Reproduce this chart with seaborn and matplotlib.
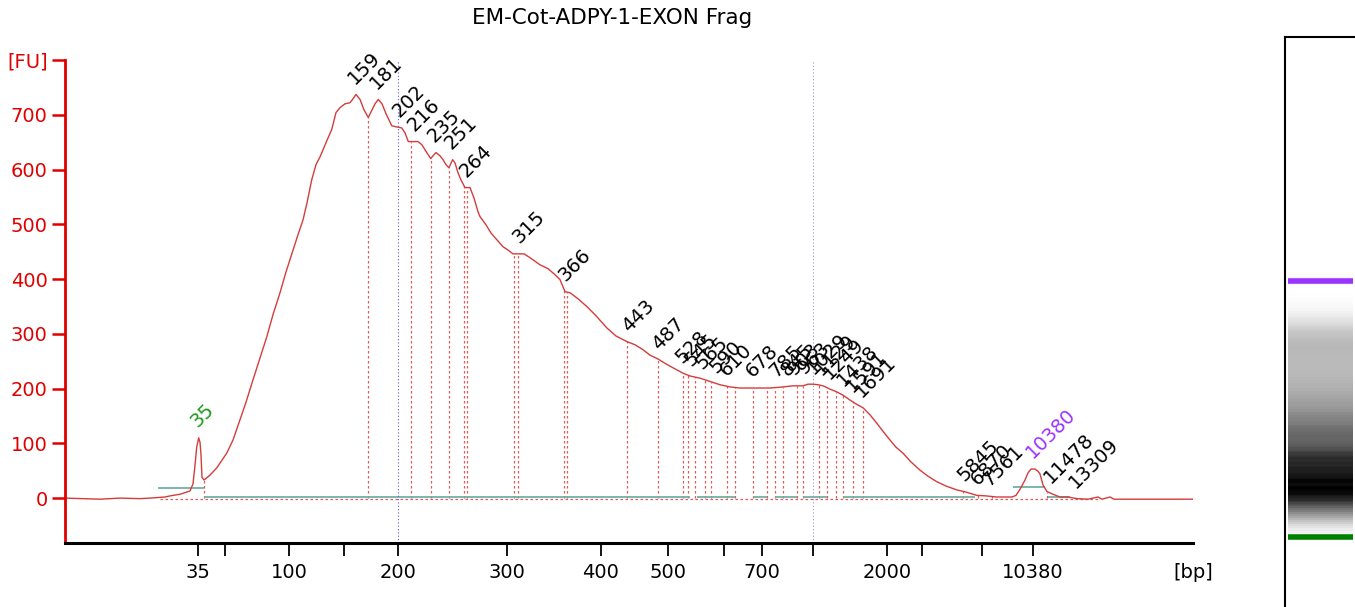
import numpy as np
import pandas as pd
import matplotlib
matplotlib.use("Agg")
import matplotlib.pyplot as plt
import seaborn as sns

# electropherogram trace: migration time [s] vs fluorescence [FU]
time = [26.5, 30.0, 32.0, 34.0, 35.0, 36.5, 37.0, 38.0, 39.0, 39.3,
        39.5, 39.67, 39.87, 40.0, 40.1, 40.2, 40.4, 41.0, 41.67, 42.67,
        43.3, 44.0, 44.6, 45.3, 46.0, 46.67, 47.3, 48.0, 48.6, 49.3,
        49.8, 50.3, 50.7, 51.17, 51.6, 52.0, 52.6, 53.17, 53.6, 54.0,
        54.5, 55.0, 55.3, 55.6, 56.0, 56.4, 56.83, 57.2, 57.5, 57.83,
        58.2, 58.6, 59.17, 59.6, 60.17, 60.5, 60.83, 61.3, 61.8, 62.2,
        62.5, 63.07, 63.3, 63.6, 64.0, 64.3, 64.6, 64.9, 65.1, 65.27,
        65.5, 65.8, 66.1, 66.5, 67.0, 67.4, 67.8, 68.0, 68.6, 69.1,
        69.67, 70.3, 70.8, 71.3, 71.8, 72.4, 73.0, 74.0, 74.8, 75.5,
        76.0, 76.5, 77.0, 77.8, 78.67, 79.6, 80.67, 81.6, 82.67, 83.5,
        84.3, 85.0, 85.8, 86.6, 87.5, 88.3, 89.0, 90.0, 91.0, 92.0,
        93.0, 94.0, 95.0, 96.0, 97.0, 98.3, 99.3, 100.3, 100.8, 101.3,
        101.8, 102.3, 103.0, 103.67, 104.3, 105.0, 105.6, 106.3, 107.0, 107.67,
        108.3, 109.0, 109.6, 110.3, 111.1, 112.0, 112.8, 113.67, 114.6, 115.67,
        116.6, 117.67, 118.6, 119.67, 120.5, 121.2, 121.6, 122.0, 122.5, 122.8,
        123.1, 123.5, 123.8, 124.0, 124.3, 124.7, 125.3, 126.0, 126.8, 127.7,
        128.8, 129.8, 130.2, 131.0, 131.4, 139.3]
fu = [0, -2, 0, -1, 0, 2, 4, 7, 13, 26,
      60, 93, 110, 102, 79, 38, 33, 42, 55, 82,
      106, 143, 175, 216, 256, 294, 335, 375, 413, 453,
      481, 508, 539, 581, 609, 623, 649, 673, 704, 713,
      720, 722, 729, 737, 728, 709, 695, 709, 720, 728,
      720, 702, 680, 678, 676, 667, 651, 651, 651, 645,
      636, 620, 625, 631, 625, 618, 609, 603, 612, 618,
      612, 594, 581, 567, 567, 548, 523, 514, 499, 484,
      472, 459, 453, 446, 446, 446, 439, 426, 419, 408,
      399, 377, 375, 364, 350, 333, 311, 296, 286, 280,
      271, 261, 254, 245, 236, 228, 223, 219, 213, 207,
      203, 201, 201, 201, 201, 203, 205, 205, 208, 208,
      207, 205, 199, 194, 188, 179, 172, 165, 152, 137,
      122, 106, 93, 82, 66, 51, 40, 30, 22, 15,
      11, 5, 4, 2, 2, 2, 5, 16, 33, 46,
      53, 53, 49, 44, 24, 12, 7, 2, 2, -1,
      -2, 2, -2, 2, -2, -2]

# ladder sizes and their migration times (x ticks)
ladder_bp = [35, 50, 100, 150, 200, 300, 400, 500, 600, 700, 1000, 2000, 3000, 7000, 10380]
ladder_t = [39.83, 42.54, 48.93, 54.42, 59.83, 70.74, 80.06, 86.83, 92.39, 96.23,
            101.26, 108.71, 112.16, 118.18, 123.3]
ladder_shown = [35, 100, 200, 300, 400, 500, 700, 2000, 10380]

# called peaks
peak_bp = [159, 181, 202, 216, 235, 251, 264, 315, 366, 443, 487,
           528, 545, 565, 590, 610, 678, 785, 845, 903, 963,
           1029, 1129, 1249, 1438, 1591, 1691, 5845, 6870, 7561, 11478, 13309]
peak_t = [55.6, 57.83, 60.1, 61.6, 63.6, 65.27, 66.8, 72.1, 76.7, 83.0, 86.0,
          88.4, 89.3, 90.4, 91.8, 92.8, 95.4, 97.8, 98.9, 99.6, 100.6,
          101.5, 102.3, 103.1, 104.5, 105.4, 106.3, 116.6, 117.9, 119.1, 125.2, 127.7]
lower_marker = (35, 39.87)
upper_marker = (10380, 123.4)

# peak borders and baselines
borders = [40.4, 56.83, 61.07, 63.07, 64.87, 66.43, 66.67, 71.43, 71.83, 76.43, 76.67,
           82.67, 85.83, 88.27, 88.83, 89.5, 90.5, 91.07, 92.67, 93.5, 95.27, 96.7,
           97.5, 98.3, 99.67, 100.3, 101.9, 102.67, 103.6, 104.3, 105.27, 106.27,
           116.27, 117.8, 119.17, 124.7]
base_start = [35.8, 40.4, 89.7, 95.3, 97.5, 100.3, 104.3, 121.3, 124.8]
base_end = [40.4, 89.0, 93.5, 96.7, 99.7, 102.7, 117.5, 124.5, 127.0]
base_level = [18, 2.5, 2.5, 2.5, 2.5, 2.5, 2.5, 20, 2.5]
region_t = [59.83, 101.26]

df = pd.DataFrame({"time": time, "fu": fu})

sns.set_style("white")
plt.rcParams["font.family"] = ["DejaVu Sans"]
plt.rcParams["text.color"] = "black"

fig = plt.figure(figsize=(13.55, 6.07), dpi=100)
ax = fig.add_axes([65 / 1355, 64 / 607, 1128 / 1355, 483 / 607])

red = "#e00000"
trace_col = "#d43c3c"
fs = 14

# borders / baselines first so the trace sits on top
tops = np.interp(borders, time, fu)
ax.vlines(borders, 0, tops, colors="#e05a5a", lw=0.9, linestyles=(0, (2, 2)))
ax.hlines(-1, 36, 130, colors="#e05a5a", lw=0.9, linestyles=(0, (2, 2)))
ax.hlines(base_level, base_start, base_end, colors="#6fb0a6", lw=1.3)
ax.axvline(region_t[0], color="#5b5bd6", lw=0.8, ls=(0, (1, 2)))
ax.axvline(region_t[1], color="#9a9ac4", lw=0.8, ls=(0, (1, 2)))

sns.lineplot(data=df, x="time", y="fu", ax=ax, color=trace_col, lw=1.0,
             estimator=None, sort=False)

# peak labels
for bp, t in zip(peak_bp, peak_t):
    y = np.interp(t, time, fu)
    ax.annotate(str(bp), xy=(t, y), xytext=(-1, 7), textcoords="offset points",
                rotation=45, rotation_mode="anchor", ha="left", va="baseline",
                fontsize=fs, color="black")
for (bp, t), col in [(lower_marker, "#1e9a1e"), (upper_marker, "#9933ff")]:
    y = np.interp(t, time, fu)
    ax.annotate(str(bp), xy=(t, y), xytext=(-1, 7), textcoords="offset points",
                rotation=45, rotation_mode="anchor", ha="left", va="baseline",
                fontsize=fs, color=col)

ax.set_xlim(26.5, 139.3)
ax.set_ylim(-82, 800)
ax.set_xlabel("")
ax.set_ylabel("")
ax.set_xticks(ladder_t)
ax.set_xticklabels([str(b) if b in ladder_shown else "" for b in ladder_bp])
ax.set_yticks([0, 100, 200, 300, 400, 500, 600, 700, 800])
ax.set_yticklabels(["0", "100", "200", "300", "400", "500", "600", "700", "[FU]"])
ax.tick_params(axis="x", length=9.5, width=1.3, colors="black", labelsize=fs, pad=5)
ax.tick_params(axis="y", length=9.5, width=1.8, colors=red, labelsize=fs, pad=3)
ax.tick_params(bottom=True, left=True)
for s in ["top", "right"]:
    ax.spines[s].set_visible(False)
ax.spines["left"].set_color(red)
ax.spines["left"].set_linewidth(2)
ax.spines["bottom"].set_color("black")
ax.spines["bottom"].set_linewidth(2.2)
ax.text(1.0, -0.062, "[bp]", transform=ax.transAxes, ha="center", va="center",
        fontsize=fs, color="black")

fig.text(612 / 1355, 1 - 18 / 607, "EM-Cot-ADPY-1-EXON Frag", ha="center", va="center",
         fontsize=15.5, color="black")

# gel-like lane on the right, drawn from the same trace
gax = fig.add_axes([1285 / 1355, 0, 80 / 1355, 570 / 607])
C = np.array(fu[:-1], dtype=float)[:, None]
gax.pcolormesh([0.0375, 0.85], time, C, cmap="gray_r", vmin=0, vmax=740, shading="flat")
gax.hlines(upper_marker[1], 0.0375, 0.85, color="#9933ff", lw=4)
gax.hlines(lower_marker[1], 0.0375, 0.85, color="#008000", lw=4)
gax.set_xlim(0, 1)
gax.set_ylim(17.0, 202.9)
gax.set_xticks([])
gax.set_yticks([])
for s in ["right", "bottom"]:
    gax.spines[s].set_visible(False)
for s in ["left", "top"]:
    gax.spines[s].set_color("black")
    gax.spines[s].set_linewidth(1.5)

fig.savefig("out.png", dpi=100)
